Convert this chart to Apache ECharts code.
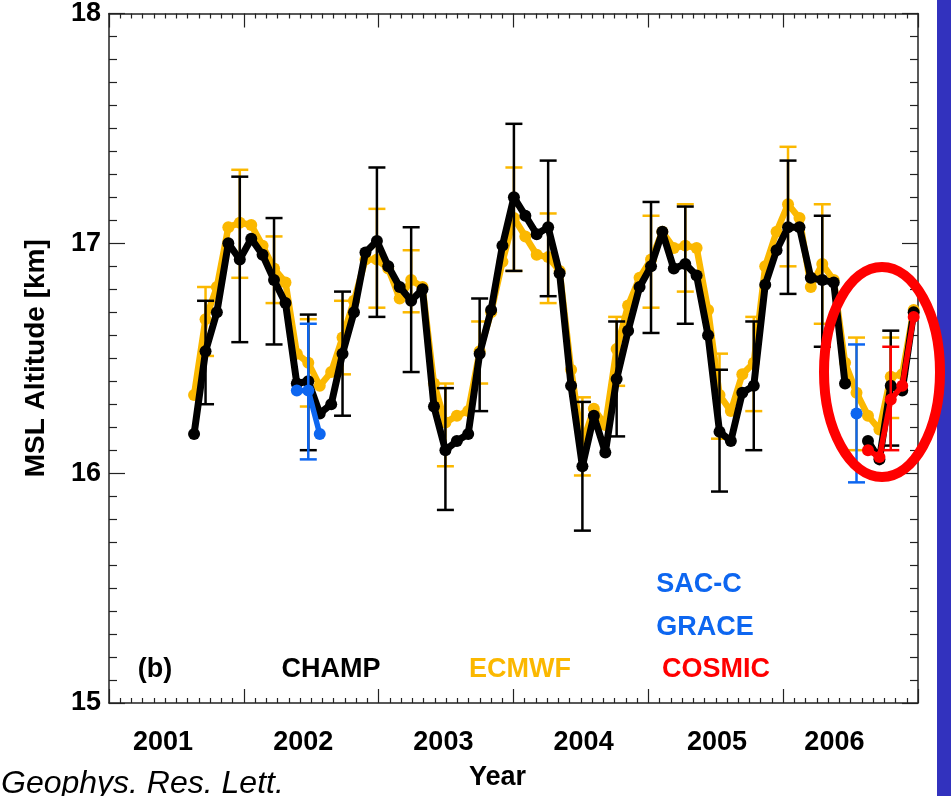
<!DOCTYPE html>
<html>
<head>
<meta charset="utf-8">
<title>MSL Altitude</title>
<script src="https://cdn.jsdelivr.net/npm/echarts@6/dist/echarts.min.js"></script>
<style>
    html, body { margin: 0; padding: 0; background: #fff; }
    #id { width: 951px; height: 796px; }
</style>
</head>
<body>
<div id="id"></div>
<script>
// time of each monthly point, decimal year
var times = [
    2001.631, 2001.716, 2001.800, 2001.885, 2001.970,
    2002.055, 2002.139, 2002.224, 2002.309, 2002.393,
    2002.478, 2002.563, 2002.648, 2002.732, 2002.817,
    2002.902, 2002.987, 2003.071, 2003.156, 2003.241,
    2003.325, 2003.410, 2003.495, 2003.580, 2003.664,
    2003.749, 2003.834, 2003.918, 2004.003, 2004.088,
    2004.172, 2004.257, 2004.342, 2004.427, 2004.511,
    2004.596, 2004.681, 2004.765, 2004.850, 2004.935,
    2005.020, 2005.104, 2005.189, 2005.274, 2005.358,
    2005.443, 2005.528, 2005.612, 2005.697, 2005.782,
    2005.867, 2005.951, 2006.036, 2006.121, 2006.205,
    2006.290, 2006.375, 2006.459, 2006.544, 2006.629,
    2006.714, 2006.798, 2006.883, 2006.968
];

var champ = [
    16.17, 16.53, 16.70, 17.00, 16.93, 17.02, 16.95, 16.84, 16.74, 16.39,
    16.40, 16.26, 16.30, 16.52, 16.70, 16.96, 17.01, 16.90, 16.81, 16.75,
    16.80, 16.29, 16.10, 16.14, 16.17, 16.52, 16.71, 16.99, 17.20, 17.12,
    17.04, 17.07, 16.87, 16.38, 16.03, 16.25, 16.09, 16.41, 16.62, 16.81,
    16.90, 17.05, 16.89, 16.91, 16.86, 16.60, 16.18, 16.14, 16.35, 16.38,
    16.82, 16.97, 17.07, 17.07, 16.85, 16.84, 16.83, 16.39, null, 16.14,
    16.06, 16.38, 16.36, 16.70
];

var ecmwf = [
    16.34, 16.67, 16.81, 17.07, 17.09, 17.08, 16.99, 16.89, 16.83, 16.52,
    16.48, 16.38, 16.44, 16.59, 16.75, 16.93, 16.93, 16.89, 16.76, 16.84,
    16.81, 16.39, 16.22, 16.25, 16.27, 16.53, 16.70, 16.92, 17.11, 17.03,
    16.95, 16.94, 16.88, 16.45, 16.13, 16.28, 16.21, 16.54, 16.73, 16.85,
    16.93, 17.05, 16.98, 16.99, 16.98, 16.71, 16.34, 16.27, 16.43, 16.48,
    16.90, 17.05, 17.17, 17.11, 16.81, 16.91, 16.84, 16.48, 16.35, 16.25,
    16.19, 16.42, 16.43, 16.71
];

// the other missions only cover a few months (indexes into times)
var saccIdx = [9, 10, 11];
var sacc = [16.36, 16.36, 16.17];
var graceIdx = [58];
var grace = [16.26];
var cosmicIdx = [59, 60, 61, 62, 63];
var cosmic = [16.10, 16.07, 16.32, 16.38, 16.68];

// error bars, every third month
var champErrIdx = [1, 4, 7, 10, 13, 16, 19, 22, 25, 28, 31, 34, 37, 40, 43, 46, 49, 52, 55, 61];
var champErrLow = [16.30, 16.57, 16.56, 16.10, 16.25, 16.68, 16.44, 15.84, 16.27, 16.88,
    16.77, 15.75, 16.16, 16.61, 16.65, 15.92, 16.10, 16.78, 16.55, 16.12];
var champErrHigh = [16.75, 17.29, 17.11, 16.69, 16.79, 17.33, 17.07, 16.37, 16.76, 17.52,
    17.36, 16.31, 16.66, 17.18, 17.16, 16.45, 16.66, 17.36, 17.12, 16.62];

var ecmwfErrIdx = [1, 4, 7, 10, 13, 16, 19, 22, 25, 28, 31, 34, 37, 40, 43, 46, 49, 52, 55, 58, 61];
var ecmwfErrLow = [16.51, 16.85, 16.74, 16.29, 16.43, 16.72, 16.70, 16.03, 16.39, 16.88,
    16.74, 15.99, 16.38, 16.72, 16.79, 16.15, 16.27, 16.90, 16.65, 16.10, 16.24];
var ecmwfErrHigh = [16.81, 17.32, 17.03, 16.67, 16.75, 17.15, 16.97, 16.39, 16.66, 17.33,
    17.13, 16.33, 16.68, 17.12, 17.17, 16.52, 16.68, 17.42, 17.17, 16.59, 16.59];

var saccErrIdx = [10];
var saccErrLow = [16.06];
var saccErrHigh = [16.65];
var graceErrIdx = [58];
var graceErrLow = [15.96];
var graceErrHigh = [16.56];
var cosmicErrIdx = [61];
var cosmicErrLow = [16.10];
var cosmicErrHigh = [16.55];

var years = ['2001', '2002', '2003', '2004', '2005', '2006'];
var yearLabelAt = [2001.40, 2002.44, 2003.48, 2004.52, 2005.51, 2006.38];

var BLACK = '#000000';
var ORANGE = '#fbb800';
var BLUE = '#0d66f0';
var RED = '#ff0000';
var FONT = '"Liberation Sans", Arial, sans-serif';

function pointsAt(idx, values) {
    return idx.map(function (k, j) {
        return [times[k], values[j]];
    });
}

function allIdx() {
    return times.map(function (t, i) { return i; });
}

function lineSeries(name, data, color, width, size, z) {
    return {
        name: name,
        type: 'line',
        data: data.map(function (d) {
            return [d[0], d[1] == null ? '-' : d[1]];
        }),
        symbol: 'circle',
        symbolSize: size,
        showAllSymbol: true,
        lineStyle: { color: color, width: width },
        itemStyle: { color: color },
        z: z,
        silent: true
    };
}

function errorBars(name, idx, low, high, color, z) {
    return {
        name: name,
        type: 'custom',
        z: z,
        silent: true,
        encode: { x: 0, y: [1, 2] },
        data: idx.map(function (k, j) {
            return [times[k], low[j], high[j]];
        }),
        renderItem: function (params, api) {
            var top = api.coord([api.value(0), api.value(2)]);
            var bot = api.coord([api.value(0), api.value(1)]);
            var hw = 8.5;
            var style = { stroke: color, lineWidth: 2.5 };
            return {
                type: 'group',
                children: [
                    { type: 'line', shape: { x1: top[0], y1: top[1], x2: bot[0], y2: bot[1] }, style: style },
                    { type: 'line', shape: { x1: top[0] - hw, y1: top[1], x2: top[0] + hw, y2: top[1] }, style: style },
                    { type: 'line', shape: { x1: bot[0] - hw, y1: bot[1], x2: bot[0] + hw, y2: bot[1] }, style: style }
                ]
            };
        }
    };
}

function frameAxis(pos, isX) {
    var ax = {
        type: 'value',
        position: pos,
        axisLine: { show: true, onZero: false, lineStyle: { color: '#222', width: 1.5 } },
        axisTick: { show: true, inside: true, length: isX ? 14 : 16, lineStyle: { color: '#222', width: 1.2 } },
        minorTick: { show: true, splitNumber: isX ? 12 : 10, length: isX ? 5 : 8, lineStyle: { color: '#222', width: 1.2 } },
        splitLine: { show: false },
        axisLabel: { show: false }
    };
    if (isX) {
        ax.min = 2001; ax.max = 2007; ax.interval = 1;
    } else {
        ax.min = 15; ax.max = 18; ax.interval = 1;
    }
    return ax;
}

function annotation(text, x, y, color) {
    return {
        type: 'text',
        x: x,
        y: y,
        z: 50,
        style: {
            text: text,
            fill: color,
            font: 'bold 27px ' + FONT,
            align: 'center',
            verticalAlign: 'middle'
        }
    };
}

function loadChart() {
    var chartDom = document.getElementById('id');
    var myChart = echarts.init(chartDom, null, { renderer: 'canvas' });
    var option;

    var xBottom = frameAxis('bottom', true);
    xBottom.axisLabel = {
        show: true,
        margin: 26,
        customValues: yearLabelAt,
        formatter: function (v) {
            return years[Math.floor(v) - 2001];
        },
        color: BLACK,
        fontSize: 27,
        fontWeight: 'bold',
        fontFamily: FONT
    };
    xBottom.name = 'Year';
    xBottom.nameLocation = 'middle';
    xBottom.nameGap = 61;
    xBottom.nameTextStyle = { color: BLACK, fontSize: 27, fontWeight: 'bold', fontFamily: FONT, padding: [0, 32, 0, 0] };

    var yLeft = frameAxis('left', false);
    yLeft.axisLabel = { show: true, margin: 8, color: BLACK, fontSize: 27, fontWeight: 'bold', fontFamily: FONT };
    yLeft.name = 'MSL Altitude [km]';
    yLeft.nameLocation = 'middle';
    yLeft.nameGap = 59;
    yLeft.nameTextStyle = { color: BLACK, fontSize: 28, fontWeight: 'bold', fontFamily: FONT };

    option = {
        animation: false,
        backgroundColor: '#ffffff',
        grid: { left: 109, right: 33, top: 12, bottom: 85 },
        xAxis: [xBottom, frameAxis('top', true)],
        yAxis: [yLeft, frameAxis('right', false)],
        series: [
            lineSeries('ECMWF', pointsAt(allIdx(), ecmwf), ORANGE, 6.5, 12, 2),
            errorBars('ECMWF err', ecmwfErrIdx, ecmwfErrLow, ecmwfErrHigh, ORANGE, 3),
            errorBars('CHAMP err', champErrIdx, champErrLow, champErrHigh, BLACK, 4),
            lineSeries('CHAMP', pointsAt(allIdx(), champ), BLACK, 7, 12, 5),
            errorBars('SAC-C err', saccErrIdx, saccErrLow, saccErrHigh, BLUE, 6),
            lineSeries('SAC-C', pointsAt(saccIdx, sacc), BLUE, 5.5, 12, 7),
            errorBars('GRACE err', graceErrIdx, graceErrLow, graceErrHigh, BLUE, 6),
            lineSeries('GRACE', pointsAt(graceIdx, grace), BLUE, 5.5, 12, 7),
            errorBars('COSMIC err', cosmicErrIdx, cosmicErrLow, cosmicErrHigh, RED, 8),
            lineSeries('COSMIC', pointsAt(cosmicIdx, cosmic), RED, 5.5, 12, 9)
        ],
        graphic: [
            {
                type: 'rect',
                z: 40,
                shape: { x: 937, y: 0, width: 14, height: 796 },
                style: { fill: '#3232be' }
            },
            {
                type: 'ellipse',
                z: 60,
                shape: { cx: 882, cy: 372, rx: 58, ry: 105 },
                style: { fill: 'none', stroke: RED, lineWidth: 10 }
            },
            annotation('(b)', 155, 670, BLACK),
            annotation('CHAMP', 331, 670, BLACK),
            annotation('ECMWF', 520, 670, ORANGE),
            annotation('COSMIC', 716, 670, RED),
            annotation('GRACE', 705, 628, BLUE),
            annotation('SAC-C', 699, 585, BLUE),
            {
                type: 'text',
                x: 1,
                y: 800,
                z: 50,
                style: {
                    text: 'Geophys. Res. Lett.',
                    fill: BLACK,
                    font: 'italic 32px ' + FONT,
                    align: 'left',
                    verticalAlign: 'bottom'
                }
            }
        ]
    };

    option && myChart.setOption(option);
}

loadChart();
</script>
</body>
</html>
